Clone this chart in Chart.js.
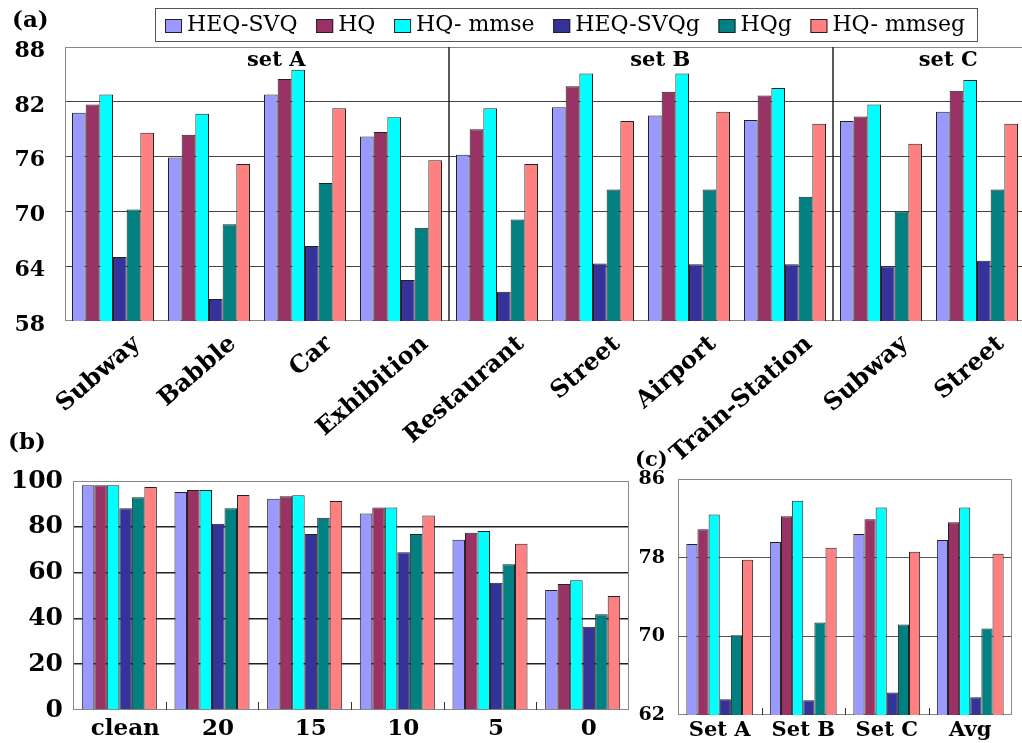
<!DOCTYPE html>
<html>
<head>
<meta charset="utf-8">
<script src="https://cdn.jsdelivr.net/npm/chart.js@4.4.1/dist/chart.umd.min.js"></script>
<style>
    html, body {
        margin: 0;
        padding: 0;
        background: #fff;
        overflow: hidden;
    }
    body {
        width: 1022px;
        height: 743px;
        position: relative;
    }
    canvas {
        position: absolute;
    }
    #chartA { left: 0; top: 0; }
    #chartB { left: 0; top: 420px; }
    #chartC { left: 620px; top: 440px; }
</style>
</head>
<body>

<canvas id="chartA" width="1040" height="460"></canvas>
<canvas id="chartB" width="640" height="323"></canvas>
<canvas id="chartC" width="402" height="303"></canvas>

<script>

// series shared by the three panels
const seriesNames = ["HEQ-SVQ", "HQ", "HQ- mmse", "HEQ-SVQg", "HQg", "HQ- mmseg"];
const seriesColors = ["#9999ff", "#993366", "#00ffff", "#333399", "#008080", "#ff8080"];

// (a) word accuracy per noise type
const noiseLabels = ["Subway", "Babble", "Car", "Exhibition", "Restaurant",
    "Street", "Airport", "Train-Station", "Subway", "Street"];
const setNames = ["set A", "set B", "set C"];
const setSizes = [4, 4, 2];
const ticksA = [58, 64, 70, 76, 82, 88];

const heqSvqA = [80.8, 75.9, 82.8, 78.2, 76.2, 81.4, 80.5, 80.0, 79.9, 80.9];
const hqA = [81.7, 78.4, 84.5, 78.7, 79.0, 83.7, 83.1, 82.7, 80.4, 83.2];
const hqMmseA = [82.8, 80.7, 85.5, 80.3, 81.3, 85.1, 85.1, 83.5, 81.7, 84.4];
const heqSvqgA = [65.0, 60.4, 66.2, 62.5, 61.2, 64.3, 64.2, 64.2, 64.0, 64.6];
const hqgA = [70.2, 68.6, 73.1, 68.2, 69.1, 72.4, 72.4, 71.6, 70.0, 72.4];
const hqMmsegA = [78.6, 75.2, 81.3, 75.6, 75.2, 79.9, 80.9, 79.6, 77.4, 79.6];

// (b) accuracy per SNR
const snrLabels = ["clean", "20", "15", "10", "5", "0"];
const ticksB = [0, 20, 40, 60, 80, 100];

const heqSvqB = [98.1, 95.2, 92.2, 85.8, 74.3, 52.4];
const hqB = [98.1, 96.1, 93.3, 88.4, 77.4, 55.0];
const hqMmseB = [98.1, 96.1, 93.8, 88.4, 78.2, 56.7];
const heqSvqgB = [88.1, 81.3, 76.9, 68.9, 55.6, 36.3];
const hqgB = [92.9, 88.1, 84.0, 76.9, 63.7, 41.8];
const hqMmsegB = [97.4, 93.9, 91.3, 84.9, 72.6, 49.8];

// (c) average per test set
const testSetLabels = ["Set A", "Set B", "Set C", "Avg"];
const ticksC = [62, 70, 78, 86];

const heqSvqC = [79.4, 79.6, 80.4, 79.8];
const hqC = [80.9, 82.2, 81.9, 81.6];
const hqMmseC = [82.4, 83.8, 83.1, 83.1];
const heqSvqgC = [63.6, 63.5, 64.3, 63.8];
const hqgC = [70.1, 71.4, 71.2, 70.8];
const hqMmsegC = [77.8, 79.0, 78.6, 78.4];

const serif = "'DejaVu Serif', 'Liberation Serif', serif";


// frame round the plot, small inner ticks and the panel tag
const framePlugin = {
    id: "frame",

    beforeDatasetsDraw(chart, args, opts) {

        const a = chart.chartArea;
        const ctx = chart.ctx;

        ctx.save();
        ctx.strokeStyle = opts.color;
        ctx.lineWidth = 1;
        ctx.strokeRect(a.left + 0.5, a.top + 0.5,
            a.right - a.left - 1, a.bottom - a.top - 1);

        if (opts.innerTicks) {
            const xs = chart.scales.x;
            ctx.strokeStyle = "#333";
            for (let i = 1; i < chart.data.labels.length; i++) {
                const px = Math.round(xs.getPixelForValue(i - 0.5)) + 0.5;
                ctx.beginPath();
                ctx.moveTo(px, a.bottom);
                ctx.lineTo(px, a.bottom - opts.innerTicks);
                ctx.stroke();
            }
        }
        ctx.restore();

    },

    afterDraw(chart, args, opts) {

        const ctx = chart.ctx;

        ctx.save();
        ctx.fillStyle = "#000";
        ctx.font = "bold " + opts.tagSize + "px " + serif;
        ctx.textBaseline = "middle";
        ctx.fillText(opts.tag, opts.tagX, opts.tagY);
        ctx.restore();

    }
};


// set separators and "set A/B/C" captions of panel (a)
const setPlugin = {
    id: "sets",

    afterDatasetsDraw(chart, args, opts) {

        if (!opts.show) {
            return;
        }

        const a = chart.chartArea;
        const xs = chart.scales.x;
        const ctx = chart.ctx;

        ctx.save();
        ctx.strokeStyle = "#222";
        ctx.lineWidth = 1.5;
        ctx.fillStyle = "#000";
        ctx.font = "bold 21px " + serif;
        ctx.textAlign = "center";
        ctx.textBaseline = "middle";

        let start = 0;
        setSizes.forEach((size, i) => {

            const end = start + size;

            if (i > 0) {
                const px = Math.round(xs.getPixelForValue(start - 0.5));
                ctx.beginPath();
                ctx.moveTo(px, a.top);
                ctx.lineTo(px, a.bottom);
                ctx.stroke();
            }

            const mid = start + (size - 1) / 2 + 0.2;
            ctx.fillText(setNames[i], xs.getPixelForValue(mid), a.top + 14);

            start = end;
        });

        ctx.restore();

    }
};


// boxed legend across the top of panel (a)
const legendPlugin = {
    id: "boxLegend",

    afterDraw(chart, args, opts) {

        if (!opts.show) {
            return;
        }

        const ctx = chart.ctx;
        const sets = chart.data.datasets;

        ctx.save();
        ctx.font = opts.font;
        ctx.textBaseline = "middle";

        const widths = sets.map(d => ctx.measureText(d.label).width);
        const used = widths.reduce((s, w) => s + w + opts.box + opts.gap, 0);
        const space = (opts.right - opts.left - used) / (sets.length - 1);

        let x = opts.left;
        sets.forEach((d, i) => {

            ctx.fillStyle = d.backgroundColor;
            ctx.fillRect(x, opts.y - 6, opts.box, 14);
            ctx.strokeStyle = "#222";
            ctx.lineWidth = 1;
            ctx.strokeRect(x + 0.5, opts.y - 6 + 0.5, opts.box - 1, 13);

            ctx.fillStyle = "#000";
            ctx.fillText(d.label, x + opts.box + opts.gap, opts.y);

            x += opts.box + opts.gap + widths[i] + space;
        });

        ctx.strokeStyle = "#555";
        ctx.strokeRect(opts.frame[0] + 0.5, opts.frame[1] + 0.5,
            opts.frame[2] - opts.frame[0], opts.frame[3] - opts.frame[1]);
        ctx.restore();

    }
};


function makeDatasets(series) {

    return seriesNames.map((name, i) => ({
        label: name,
        data: series[i],
        backgroundColor: seriesColors[i],
        borderColor: "#222",
        borderWidth: 1
    }));

}

function makeChart(id, p) {

    const min = p.ticks[0];
    const max = p.ticks[p.ticks.length - 1];

    return new Chart(document.getElementById(id), {

        type: "bar",

        data: {
            labels: p.labels,
            datasets: makeDatasets(p.series)
        },

        plugins: [framePlugin, setPlugin, legendPlugin],

        options: {
            responsive: false,
            animation: false,
            events: [],
            layout: {
                padding: p.padding
            },
            datasets: {
                bar: {
                    categoryPercentage: p.catPct,
                    barPercentage: 1
                }
            },
            scales: {
                x: {
                    grid: { display: false, drawTicks: false },
                    border: { display: false },
                    ticks: Object.assign({
                        autoSkip: false,
                        color: "#000",
                        font: { family: serif, size: p.xFont, weight: "bold" }
                    }, p.xTicks),
                    afterFit(scale) {
                        scale.height = p.xHeight;
                    }
                },
                y: {
                    min: min,
                    max: max,
                    border: { display: false },
                    grid: {
                        drawTicks: false,
                        lineWidth: p.gridWidth,
                        color: c => (c.tick && (c.tick.value === min || c.tick.value === max))
                            ? "rgba(0,0,0,0)" : p.gridColor
                    },
                    ticks: {
                        stepSize: p.ticks[1] - p.ticks[0],
                        padding: p.yPad,
                        labelOffset: p.yShift,
                        color: "#000",
                        font: { family: serif, size: p.yFont, weight: "bold" }
                    },
                    afterFit(scale) {
                        scale.width = p.yWidth;
                    }
                }
            },
            plugins: {
                legend: { display: false },
                tooltip: { enabled: false },
                frame: {
                    color: "#888",
                    innerTicks: p.innerTicks,
                    tag: p.tag,
                    tagX: p.tagX,
                    tagY: p.tagY,
                    tagSize: p.tagSize
                },
                sets: { show: p.showSets },
                boxLegend: {
                    show: p.showLegend,
                    font: "22px " + serif,
                    box: 17,
                    gap: 5,
                    left: 165,
                    right: 965,
                    y: 25,
                    frame: [155, 8, 977, 41]
                }
            }
        }

    });

}


window.onload = function() {

    makeChart("chartA", {
        labels: noiseLabels,
        series: [heqSvqA, hqA, hqMmseA, heqSvqgA, hqgA, hqMmsegA],
        ticks: ticksA,
        padding: { top: 47, right: 15, left: 0, bottom: 0 },
        catPct: 0.854,
        xFont: 24,
        xTicks: { maxRotation: 41, minRotation: 41, labelOffset: 24, padding: 9 },
        xHeight: 139,
        yFont: 22,
        yPad: 20,
        yShift: 4,
        yWidth: 65,
        gridColor: "#444",
        gridWidth: 1,
        innerTicks: 0,
        tag: "(a)",
        tagX: 12,
        tagY: 21,
        tagSize: 23,
        showSets: true,
        showLegend: true
    });

    makeChart("chartB", {
        labels: snrLabels,
        series: [heqSvqB, hqB, hqMmseB, heqSvqgB, hqgB, hqMmsegB],
        ticks: ticksB,
        padding: { top: 61, right: 11, left: 0, bottom: 0 },
        catPct: 0.81,
        xFont: 23,
        xTicks: { maxRotation: 0, minRotation: 0, labelOffset: 6, padding: 5 },
        xHeight: 33,
        yFont: 25,
        yPad: 10,
        yShift: 0,
        yWidth: 73,
        gridColor: "#222",
        gridWidth: 1.5,
        innerTicks: 8,
        tag: "(b)",
        tagX: 8,
        tagY: 23,
        tagSize: 23,
        showSets: false,
        showLegend: false
    });

    makeChart("chartC", {
        labels: testSetLabels,
        series: [heqSvqC, hqC, hqMmseC, heqSvqgC, hqgC, hqMmsegC],
        ticks: ticksC,
        padding: { top: 39, right: 10, left: 0, bottom: 0 },
        catPct: 0.8,
        xFont: 21,
        xTicks: { maxRotation: 0, minRotation: 0, padding: 3 },
        xHeight: 28,
        yFont: 19,
        yPad: 13,
        yShift: 0,
        yWidth: 58,
        gridColor: "#555",
        gridWidth: 1,
        innerTicks: 7,
        tag: "(c)",
        tagX: 15,
        tagY: 21,
        tagSize: 21,
        showSets: false,
        showLegend: false
    });

}

</script>
</body>
</html>
